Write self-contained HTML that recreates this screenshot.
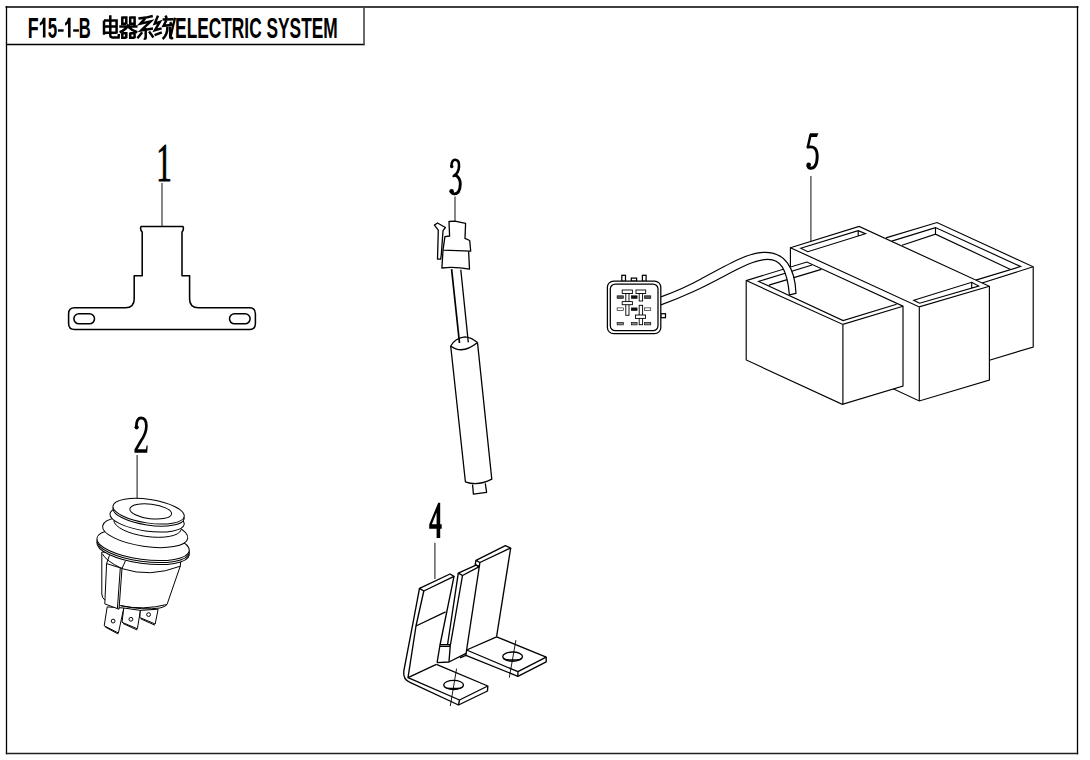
<!DOCTYPE html>
<html><head><meta charset="utf-8">
<style>
html,body{margin:0;padding:0;background:#fff;width:1090px;height:760px;overflow:hidden}
svg{display:block}
.t{font-family:"Liberation Sans",sans-serif;font-weight:bold}
.n{font-family:"Liberation Serif",serif}
</style></head><body>
<svg width="1090" height="760" viewBox="0 0 1090 760">
<rect width="1090" height="760" fill="#fff"/>
<!-- frame -->
<g fill="none" stroke-linecap="square">
<line x1="6.5" y1="7" x2="1077.5" y2="7" stroke="#404040" stroke-width="2"/>
<line x1="6.5" y1="7" x2="6.5" y2="753.5" stroke="#000" stroke-width="1.3"/>
<line x1="1077.5" y1="7" x2="1077.5" y2="753.5" stroke="#000" stroke-width="1.3"/>
<line x1="6.5" y1="753.6" x2="1077.5" y2="753.6" stroke="#222" stroke-width="1.5"/>
<line x1="6.5" y1="44.5" x2="364" y2="44.5" stroke="#000" stroke-width="1.3"/>
<line x1="364" y1="7" x2="364" y2="44.5" stroke="#444" stroke-width="1.6"/>
</g>
<!-- title -->
<g id="title">
<text class="t" font-size="29.9" transform="translate(27.65 37.6) scale(0.595 1)">F</text>
<text class="t" font-size="29.9" transform="translate(47.8 37.6) scale(0.569 1)">5</text>
<text class="t" font-size="29.9" transform="translate(78.84 37.6) scale(0.554 1)">B</text>
<path d="M42.9,17.8 L45.5,17.8 L45.5,37.6 L42.9,37.6 L42.9,23.6 Q41.6,24.9 39.8,25.7 L39.8,23 Q42.2,21.6 42.9,17.8 Z"/>
<path d="M68.0,17.8 L70.6,17.8 L70.6,37.6 L68.0,37.6 L68.0,23.6 Q66.8,24.9 65.1,25.7 L65.1,23 Q67.4,21.6 68.0,17.8 Z"/>
<rect x="58" y="29.3" width="5.6" height="2.4"/>
<rect x="73.2" y="29.3" width="5.7" height="2.4"/>
<text class="t" font-size="29.9" transform="translate(175.1 37.6) scale(0.5795 1)">ELECTRIC SYSTEM</text>
<g fill="none" stroke="#000" stroke-width="2.5" stroke-linecap="butt" stroke-linejoin="miter">
<path d="M104,20.5 L104,34.8 M104,20.5 L116.6,20.5 L116.6,33.6 M104,26.5 L116.6,26.5 M104,32.7 L116.6,32.7"/>
<path d="M110.3,15.2 L110.3,35.6 Q110.3,37.4 112.2,37.4 L118.6,37.4 L118.9,34"/>
<path d="M122.3,16.5 L122.3,25 M122.3,17.4 L126.3,17.4 L126.3,24.2 M122.3,23.8 L126.3,23.8"/>
<path d="M130.2,16.5 L130.2,25 M130.2,17.4 L134.6,17.4 L134.6,24.2 M130.2,23.8 L134.6,23.8"/>
<path d="M119.3,26.6 L137.5,26.6 M128.6,24.4 Q126,30 119.6,32.2 M128.4,26.8 Q132,30.5 137.3,32.3 M133.2,23.2 L135.2,25.4"/>
<path d="M122.3,32.5 L122.3,39 M122.3,33.3 L126.3,33.3 L126.3,38.2 M122.3,37.8 L126.3,37.8"/>
<path d="M130.2,32.5 L130.2,39 M130.2,33.3 L134.6,33.3 L134.6,38.2 M130.2,37.8 L134.6,37.8"/>
<path d="M138.4,18.6 L146,17.6 L152.8,16"/>
<path d="M145.2,18.4 L140.4,23.6 L150.6,21.4 L141.2,30.4 L153,28.6"/>
<path d="M145.7,28 L145.7,37.8 Q145.6,39.2 143.8,38.4"/>
<path d="M142.2,32.3 L137.4,38.2 M149.1,31.6 L153.4,37.4"/>
<path d="M158,15.6 L154.8,23.6 L159.8,22 L155,30.2 L161.6,28.4 M154.6,35.2 L161.8,32.4"/>
<path d="M165.4,15.6 L166.8,18.2 M162.6,19.6 L173.6,19.2 M166.6,19.8 L163.6,25.8 L171.8,25 M170,22.2 L172.4,25.6"/>
<path d="M167.4,26.8 Q167.6,35 162.6,39 M170.2,26.8 L170.2,36.8 Q170.2,38.2 171.8,38.2 L173.2,38"/>
<path d="M170.4,37.6 L175,17.8" stroke-width="2.3"/>
</g>
</g>
<!-- numbers -->
<g class="n" fill="#000" stroke="#000" stroke-width="0.9">
<text font-size="54.2" transform="translate(156.2 180.9) scale(0.575 1)">1</text>




</g>
<path fill="#000" fill-rule="evenodd" d="M429.2,524.4 L438.2,502.8 L440.2,502.8 L440.2,524.2 L441.7,524.2 L441.7,528.7 L440.2,528.7 L440.2,537.9 L436.6,537.9 L436.6,528.7 L429.2,528.7 Z M431.9,524.2 L436.6,524.2 L436.6,512.6 Z"/>
<g fill="none" stroke="#000" stroke-linecap="round">
<path d="M451.4,166.3 Q451.6,159.6 455.3,159.8 Q459.6,160.2 459,166.8 Q458.5,172.6 454.6,175.2" stroke-width="2.6"/>
<path d="M455.6,175.2 Q460.4,177.8 460.3,184.2 Q460,193.8 454.2,193.9 Q451.9,193.9 451.6,191.4" stroke-width="2.9"/>
<path d="M453.4,176.2 L456.4,175" stroke-width="2.2"/>
<path d="M810.5,135 L807.9,146.8" stroke-width="2.5"/>
<path d="M808,147.2 Q817.4,145 817.2,157 Q816.8,168.4 810.6,168.3 Q808.3,168.1 807.8,165.6" stroke-width="2.9"/>
</g>
<circle cx="451.8" cy="166.6" r="1.7"/>
<circle cx="451.6" cy="191.2" r="2.3"/>
<circle cx="808.7" cy="164.8" r="2.3"/>
<path d="M810.1,133.2 L818.4,133.2 L816.9,137.1 L809.5,137.1 Z"/>
<path d="M136.3,426.2 Q136.6,417.9 141.1,417.9 Q146.4,418.1 146.4,426.3 Q146.2,433.5 141,440.8 L135.6,450.2" fill="none" stroke="#000" stroke-width="2.7"/>
<circle cx="136.6" cy="427.3" r="2.1"/>
<path d="M134.5,449.3 L145.9,449.3 L146.6,445.6 L147.7,445.6 L147.2,452.8 L134.5,452.8 Z"/>
<!-- leaders -->
<g stroke="#3a3a3a" stroke-width="1.2" fill="none">
<line x1="162" y1="183" x2="162" y2="226"/>
<line x1="137.1" y1="455" x2="137.1" y2="498.5"/>
<line x1="455" y1="196.5" x2="455" y2="221.5"/>
<line x1="434.9" y1="542.8" x2="434.9" y2="579"/>
<line x1="810.9" y1="176" x2="810.9" y2="241"/>
</g>
<!-- part 1 -->
<g fill="none" stroke="#000" stroke-width="1.55" stroke-linejoin="round">
<path d="M142.2,232 Q139.8,229.5 141,226.5 L183,226.5 Q184.2,229.5 182,232 L182,275.8 L189.6,275.8 L189.6,299 Q189.6,307.7 198.3,307.7 L249.4,307.7 Q255.4,307.7 255.4,313.7 L255.4,323.5 Q255.4,329.5 249.4,329.5 L74.6,329.5 Q68.6,329.5 68.6,323.5 L68.6,313.7 Q68.6,307.7 74.6,307.7 L125.5,307.7 Q134.2,307.7 134.2,299 L134.2,275.8 L142.2,275.8 Z"/>
<rect x="73.9" y="313.8" width="20.6" height="10" rx="5"/>
<rect x="229.5" y="313.8" width="20.6" height="10" rx="5"/>
</g>
<!-- part 2 switch -->
<g fill="#fff" stroke="#000" stroke-width="1" stroke-linejoin="round">
<!-- terminals -->
<path d="M107.2,606.9 L104.2,625.8 L118.4,633 L123.8,608 Z"/>
<path d="M105.2,627 L118.2,634" fill="none"/>
<circle cx="113.1" cy="621.1" r="1.9"/>
<path d="M123.8,608 L122,622.3 L137.4,628.8 L140.4,610.4 Z"/>
<path d="M123,623.5 L137.2,630" fill="none"/>
<circle cx="130.9" cy="619.3" r="1.9"/>
<path d="M140.4,610.4 L139.8,617.5 L155.2,624 L158.1,609.2 Z"/>
<path d="M140.6,618.8 L155,625.2" fill="none"/>
<circle cx="148.6" cy="614.6" r="1.9"/>
<!-- body -->
<path d="M101.8,552 L101.8,594 Q102,598 104.8,600 L120.8,605.7 Q143,610.5 160,608 Q166,606.5 167,604.5 L180.3,566 L181,558 Z"/>
<path d="M102.5,554 Q106,561 122,568.6 Q150,578 180.3,566.2" fill="none"/>
<path d="M120.8,605.7 Q143.3,610.5 167,604.5" fill="none"/>
<!-- clip strip -->
<path d="M106.6,563.6 L122,568.4 L119,609.2 L104.8,603.9 Z"/>
<path d="M120.3,568 L117.4,608.6" fill="none"/>
<path d="M109.5,555.3 L106.6,563.6 M125.5,560.7 L122,568.4" fill="none"/>
<!-- flange -->
<ellipse cx="143.1" cy="548.6" rx="46.6" ry="14.8" transform="rotate(7.8 143.1 548.6)"/>
<ellipse cx="143.1" cy="546.6" rx="46.6" ry="14.8" transform="rotate(7.8 143.1 546.6)"/>
<ellipse cx="143.1" cy="544.6" rx="46.6" ry="14.8" transform="rotate(7.8 143.1 544.6)"/>
<!-- ring 3 -->
<ellipse cx="145.2" cy="532.1" rx="43" ry="14.3" transform="rotate(8.4 145.2 532.1)"/>
<!-- ring 2 -->
<ellipse cx="147.1" cy="519" rx="37.5" ry="12" transform="rotate(8.1 147.1 519)"/>
<path d="M113.8,520.5 A34,12 8.1 0 0 181,530" fill="none"/>
<!-- top disk -->
<ellipse cx="148.6" cy="513.3" rx="36" ry="11.8" transform="rotate(8.5 148.6 513.3)"/>
<ellipse cx="148.6" cy="511.2" rx="36" ry="11.8" transform="rotate(8.5 148.6 511.2)"/>
<ellipse cx="150.7" cy="511.4" rx="21" ry="7.3" transform="rotate(7 150.7 511.4)"/>
</g>
<!-- part 3 -->
<g fill="#fff" stroke="#000" stroke-width="1.3" stroke-linejoin="round">
<!-- cable -->
<path d="M451.6,269.2 L459.5,343" fill="none" stroke-width="1.7"/>
<path d="M460.8,269.8 L468.3,342.4" fill="none"/>
<!-- cylinder -->
<path d="M450.7,346 L465.4,481.8 Q477.6,486.5 491.8,479.2 L477.5,342.6" />
<path d="M450.7,346 Q455,338 465,336.8 M477.5,342.6 Q472,337.5 465,336.8" fill="none"/>
<path d="M450.7,346 Q462.4,355 477.5,342.6" fill="none"/>
<path d="M472.6,484.5 L473.4,494.2 L486.6,492.4 L485.3,483.4" fill="none"/>
<!-- connector blocks -->
<path d="M443,250.2 L441.9,268 Q455,266.5 469.5,269.2 L468.6,251.1"/>
<path d="M449,221.5 L454.9,221.2 L465.6,223.3 L465,238.4 L469.7,240.5 L470.7,251.2 L443,250.2 L444.9,236.6 L449.6,236 Z"/>
<!-- clip -->
<path d="M434.4,225.1 L437.5,223 L445.4,227.5 L443,230.7 L441.3,254.5 L440.7,259.1 L437.5,259.1 L438.3,230.2 Z"/>
</g>
<!-- part 4 -->
<g fill="none" stroke="#000" stroke-width="1.35" stroke-linejoin="round">
<!-- upright A -->
<path d="M419.5,588.4 L450,574 L454,576.4 L423.8,591 Z"/>
<path d="M419.5,588.4 L413.1,622.3 L403.8,671 Q402.8,679.5 410,682.3 L458.5,705 L487.5,691 L487.8,686"/>
<path d="M423.8,591 L416,626 L408,677.6 L436.4,664.3"/>
<path d="M416,626 L445.6,611.8"/>
<path d="M454,576.4 L440,645 L437.1,662.6"/>
<!-- plate A -->
<path d="M436.4,664.3 L487.8,686 L459.5,700 L408,677.6"/>
<path d="M459.5,700 L458.5,705"/>
<ellipse cx="453.6" cy="685" rx="9.9" ry="4.6"/>
<path d="M444.5,686.2 A9.1,2.2 0 0 0 462.7,686.2"/>
<path d="M456.6,668.6 L450.3,706" stroke-width="0.9"/>
<!-- middle piece -->
<path d="M439.9,644.6 L450.4,644.6 M439.7,646.3 L450.3,646.3"/>
<path d="M437.1,662.6 L449,662 L466,653.4 M450.3,645 L449,662"/>
<!-- upright B -->
<path d="M458.3,573.1 L476,565.2 L479.3,566.7 L462.5,575.5 Z"/>
<path d="M458.3,573.1 L447.5,645"/>
<path d="M462.5,575.5 L450.4,645"/>
<!-- upright C -->
<path d="M476,560.4 L505.4,545.7 L510.7,548 L479.9,562.5 Z"/>
<path d="M476,560.4 L475.2,564.5 L479.3,566.7"/>
<path d="M479.9,562.5 L466.6,650"/>
<path d="M510.7,548 L496.6,636.5"/>
<!-- plate C -->
<path d="M466.6,650 L496.6,636.8 L546.2,657.2 L546.2,661.8 L517.9,676.3 L465.9,655.3 L460,657.9"/>
<path d="M466.6,650 L465.9,655.3"/>
<path d="M466.6,650 L517.9,671.7 L546.2,657.2 M517.9,671.7 L517.9,676.3"/>
<ellipse cx="512.6" cy="656.6" rx="9.9" ry="4.6"/>
<path d="M503.5,657.8 A9.1,2.2 0 0 0 521.7,657.8"/>
<path d="M515.9,640.1 L509.3,677.6" stroke-width="0.9"/>
</g>
<!-- part 5 boxes -->
<g fill="#fff" stroke="#000" stroke-width="1.15" stroke-linejoin="miter">
<!-- right box -->
<path d="M885.9,237.9 L937,222.5 L1033.2,266.8 L1033.2,347 L989.4,360.2 L989.4,286 Z" stroke="none"/>
<path d="M885.9,237.9 L937,222.5 L1033.2,266.8 L1033.2,347 L989.4,360.2" fill="none"/>
<path d="M891.7,241.1 L935.5,227.6 L1020.6,266.5 L975.8,280.1" fill="none"/>
<path d="M902,245.2 L935.5,234.2 L1010.6,269.4 M935.5,227.6 L935.5,234.2" fill="none"/>
<path d="M1033.2,266.8 L982,283" fill="none"/>
<!-- middle box -->
<path d="M790.4,247.7 L859.1,226.4 L989.4,286.3 L989.4,380 L919.3,401 L790.4,341 Z"/>
<path d="M790.4,247.7 L919.3,306.9 L989.4,286.3 M919.3,306.9 L919.3,401" fill="none"/>
<path d="M800.7,248.2 L858.2,230.7 L865.5,233.7 L807.8,251.7 Z M858.2,230.7 L858.2,235.5" fill="none"/>
<path d="M913.8,300.3 L971.7,282.3 L978.7,286 L919.6,303.2 Z M971.7,282.3 L971.7,288.2" fill="none"/>
<!-- left box -->
<path d="M746.2,280.6 L806.9,262 L903,306.2 L903,386 L842.3,404.3 L746.2,360 Z"/>
<path d="M746.2,280.6 L842.9,324.4 L903,306.2 M842.9,324.4 L842.9,404.3" fill="none"/>
<path d="M812.1,265 L758.6,281.4 L843.1,320.6 L896.6,304.3 M821.3,269.4 L768.9,285.1" fill="none"/>
</g>
<!-- cable part 5 -->
<g fill="#fff" stroke="#000" stroke-width="1.2" stroke-linejoin="round">
<path d="M660.3,297.1 C680,290 690,285 701.4,278.7 C730,263 750,252 764.5,252.3 C785,252 795,268 796,293.4 L789.4,294.9 C787,268 780,259 767.4,259.3 C750,260 730,274 700,288.5 C690,293 680,298 660.3,305.1 Z"/>
</g>
<!-- connector -->
<g fill="#fff" stroke="#000" stroke-width="1.25">
<rect x="621.8" y="275.3" width="3.7" height="6" />
<rect x="631.3" y="278.1" width="5.3" height="3" />
<rect x="642.4" y="275.3" width="3.7" height="6" />
<rect x="660.8" y="313.7" width="4.7" height="4" />
<rect x="607.4" y="281" width="53.4" height="52.7" rx="6.3"/>
<rect x="610.3" y="284" width="47.7" height="46.7" rx="5"/>
</g>
<g fill="#555" stroke="#000" stroke-width="0.6">
<rect x="617.1" y="295.8" width="6.3" height="2.6"/>
<rect x="631.3" y="295.8" width="5.8" height="2.6" fill="#111"/>
<rect x="644.5" y="295.8" width="6.3" height="2.6"/>
<rect x="617.1" y="307.9" width="6.3" height="2.6" fill="#fff"/>
<rect x="631.3" y="307.9" width="5.8" height="2.6" fill="#111"/>
<rect x="644.5" y="307.9" width="6.3" height="2.6" fill="#fff"/>
<rect x="617.1" y="322.3" width="6.3" height="2.6" fill="#888"/>
<rect x="631.3" y="322.3" width="5.8" height="2.6" fill="#888"/>
<rect x="644.5" y="322.3" width="6.3" height="2.6" fill="#888"/>
</g>
<g fill="#fff" stroke="#000" stroke-width="0.9">
<rect x="622.2" y="290" width="10.2" height="3.5"/>
<rect x="625.8" y="293.5" width="3.2" height="21.8"/>
<rect x="622.2" y="301.6" width="10.2" height="3.1"/>
<rect x="636" y="290" width="9.7" height="3.5"/>
<rect x="639.2" y="293.5" width="3.4" height="7.5"/>
<rect x="639.2" y="305.3" width="3.4" height="19.4"/>
<rect x="635.5" y="315" width="10" height="3.4"/>
</g>
</svg>
</body></html>
